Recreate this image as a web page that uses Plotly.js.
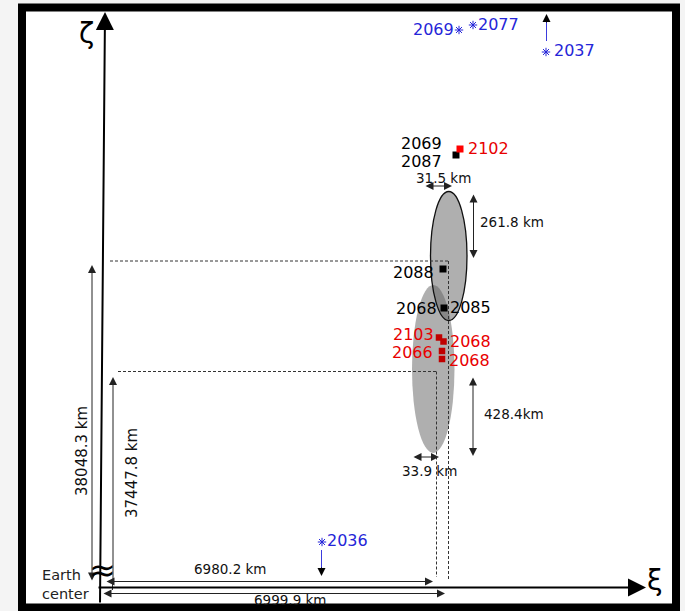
<!DOCTYPE html>
<html>
<head>
<meta charset="utf-8">
<script src="https://cdn.plot.ly/plotly-3.0.1.min.js"></script>
<style>html,body{margin:0;padding:0;background:#f4f4f4}#chart{width:685px;height:611px}</style>
</head>
<body>
<div id="chart"></div>
<script>
// Diagram frame coordinates (xi to the right, zeta downward on screen)
const blackSqX = [456, 443, 444];
const blackSqY = [155, 269, 308];
const brightRedSqX = [460];
const brightRedSqY = [149];
const darkRedSqX = [439, 443.5, 442, 442];
const darkRedSqY = [337.5, 341.5, 351, 359];
const blueStarX = [459, 473, 546, 322];
const blueStarY = [30, 25, 52, 542];

const blackLabels = ["2069", "2087", "2088", "2068", "2085"];
const blackLabelX = [421.5, 421.5, 413.5, 416.5, 470.5];
const blackLabelY = [143.5, 161, 272.5, 308.5, 307.5];

const redLabels = ["2102", "2103", "2068", "2066", "2068"];
const redLabelX = [488.5, 413.5, 470.5, 412.5, 469.5];
const redLabelY = [148, 334, 341.5, 352, 360];

const blueLabels = ["2069", "2077", "2037", "2036"];
const blueLabelX = [433.5, 498, 574.5, 347.5];
const blueLabelY = [29, 24, 50, 540.5];

const dimLabels = ["31.5 km", "261.8 km", "428.4km", "33.9 km", "6980.2 km", "6999.9 km"];
const dimLabelX = [443, 512, 514, 429, 230, 290];
const dimLabelY = [177.5, 221.5, 414, 471, 569, 600];

const vertLabels = ["38048.3 km", "37447.8 km"];
const vertLabelX = [81.5, 131.5];
const vertLabelY = [451.5, 473.5];

// ellipses: [x0, x1, y0, y1]
const ellipseA = [430.5, 467, 191.5, 320.5];
const ellipseB = [412, 454.5, 285, 453];

const FONT = "DejaVu Sans, sans-serif";

const shapes = [
  {type:"rect", xref:"x", yref:"y", x0:22, x1:676, y0:7.5, y1:607.5, fillcolor:"#ffffff", line:{color:"#000", width:8}, layer:"below"},
  {type:"circle", xref:"x", yref:"y", x0:ellipseB[0], x1:ellipseB[1], y0:ellipseB[2], y1:ellipseB[3], fillcolor:"rgba(95,95,95,0.5)", line:{width:0}, layer:"below"},
  {type:"circle", xref:"x", yref:"y", x0:ellipseA[0], x1:ellipseA[1], y0:ellipseA[2], y1:ellipseA[3], fillcolor:"rgba(95,95,95,0.5)", line:{color:"#111", width:1.3}, layer:"below"},
  // dashed guide lines
  {type:"line", x0:110, x1:448, y0:261, y1:261, line:{color:"#333", width:1, dash:"3px,2px"}},
  {type:"line", x0:118, x1:436.5, y0:371.5, y1:371.5, line:{color:"#333", width:1, dash:"3px,2px"}},
  {type:"line", x0:448.5, x1:448.5, y0:261, y1:581, line:{color:"#333", width:1, dash:"3px,2px"}},
  {type:"line", x0:436.5, x1:436.5, y0:371.5, y1:577, line:{color:"#333", width:1, dash:"3px,2px"}},
  // blue stems of year arrows
  {type:"line", x0:546.5, x1:546.5, y0:41, y1:22, line:{color:"#3b3bdd", width:1}},
  {type:"line", x0:321.5, x1:321.5, y0:550, y1:568, line:{color:"#3b3bdd", width:1}},
  // lower parts of vertical lines
  {type:"line", x0:112.5, x1:112.5, y0:584, y1:590, line:{color:"#333", width:1}}
];

function arrow(x, y, ax, ay, opts) {
  return Object.assign({x:x, y:y, ax:ax, ay:ay, xref:"x", yref:"y", axref:"x", ayref:"y",
    text:"", showarrow:true, arrowhead:2, arrowsize:1, arrowwidth:1, arrowcolor:"#222", standoff:0, startstandoff:0}, opts || {});
}
function label(t, x, y, size, color, extra) {
  return Object.assign({x:x, y:y, xref:"x", yref:"y", text:t, showarrow:false,
    xanchor:"center", yanchor:"middle", font:{family:FONT, size:size, color:color}}, extra || {});
}

const annotations = [];
// main axes
annotations.push(arrow(105, 12, 100, 604, {arrowwidth:2, arrowsize:1.8, arrowcolor:"#000"}));
annotations.push(arrow(646, 587.5, 97, 587.5, {arrowwidth:2, arrowsize:1.8, arrowcolor:"#000"}));
// distance arrows
annotations.push(arrow(92, 265, 92, 582, {arrowside:"end+start", arrowsize:1.6}));
annotations.push(arrow(113, 377, 113, 584, {arrowsize:1.6}));
annotations.push(arrow(433, 581.5, 105, 581.5, {arrowside:"end+start", arrowsize:1.6}));
annotations.push(arrow(445, 593.5, 102, 593.5, {arrowside:"end+start", arrowsize:1.6}));
// ellipse dimension arrows
annotations.push(arrow(452, 186, 424, 186, {arrowside:"end+start", arrowsize:1.6}));
annotations.push(arrow(473.5, 258, 473.5, 193, {arrowside:"end+start", arrowsize:1.6}));
annotations.push(arrow(473, 456, 473, 376, {arrowside:"end+start", arrowsize:1.6}));
annotations.push(arrow(439, 457, 412, 457, {arrowside:"end+start", arrowsize:1.6}));
// year arrow heads
annotations.push(arrow(546.5, 14, 546.5, 24, {arrowsize:1.6, arrowcolor:"#000"}));
annotations.push(arrow(321.5, 576, 321.5, 566, {arrowsize:1.6, arrowcolor:"#000"}));

blackLabels.forEach((t,i)=>annotations.push(label(t, blackLabelX[i], blackLabelY[i], 16, "#000")));
redLabels.forEach((t,i)=>annotations.push(label(t, redLabelX[i], redLabelY[i], 16, "#e80000")));
blueLabels.forEach((t,i)=>annotations.push(label(t, blueLabelX[i], blueLabelY[i], 16, "#2525d8")));
dimLabels.forEach((t,i)=>annotations.push(label(t, dimLabelX[i], dimLabelY[i], 13.5, "#111")));
vertLabels.forEach((t,i)=>annotations.push(label(t, vertLabelX[i], vertLabelY[i], 15, "#111", {textangle:-90})));
annotations.push(label("Earth", 40, 574.5, 14.5, "#222", {xanchor:"left"}));
annotations.push(label("center", 40, 593.5, 14.5, "#222", {xanchor:"left"}));
annotations.push(label("ζ", 86, 33, 28, "#000"));
annotations.push(label("ξ", 655, 580, 28, "#000"));
annotations.push(label("≈", 102, 570, 32, "#000"));

const traces = [
  {type:"scatter", mode:"markers", x:blackSqX, y:blackSqY, marker:{symbol:"square", size:7, color:"#000"}, hoverinfo:"skip"},
  {type:"scatter", mode:"markers", x:brightRedSqX, y:brightRedSqY, marker:{symbol:"square", size:7, color:"#ff0000"}, hoverinfo:"skip"},
  {type:"scatter", mode:"markers", x:darkRedSqX, y:darkRedSqY, marker:{symbol:"square", size:6.5, color:"#c00000"}, hoverinfo:"skip"},
  {type:"scatter", mode:"markers", x:blueStarX, y:blueStarY, marker:{symbol:"asterisk-open", size:7, color:"#2525d8", line:{color:"#2525d8", width:1}}, hoverinfo:"skip"}
];

const layout = {
  width:685, height:611,
  margin:{l:0, r:0, t:0, b:0},
  paper_bgcolor:"#f4f4f4", plot_bgcolor:"rgba(0,0,0,0)",
  showlegend:false,
  xaxis:{range:[0,685], visible:false, fixedrange:true},
  yaxis:{range:[611,0], visible:false, fixedrange:true},
  shapes:shapes,
  annotations:annotations
};
Plotly.newPlot("chart", traces, layout, {displayModeBar:false, staticPlot:true});
</script>
</body>
</html>
